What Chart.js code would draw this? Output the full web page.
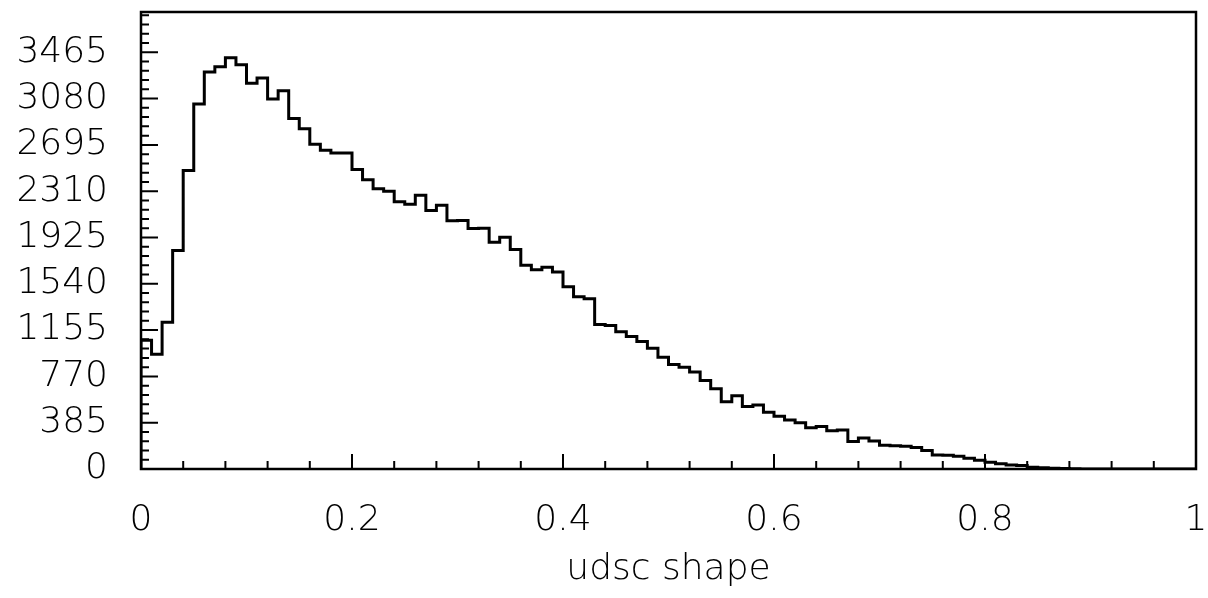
<!DOCTYPE html>
<html>
<head>
<meta charset="utf-8">
<script src="https://cdn.jsdelivr.net/npm/chart.js@4.4.1/dist/chart.umd.min.js"></script>
<style>
  html, body { margin: 0; padding: 0; background: #fff; }
  #wrap { width: 1208px; height: 598px; }
</style>
</head>
<body>
<div id="wrap"><canvas id="myChart" width="1208" height="598"></canvas></div>
<script>
// histogram of "udsc shape", 100 bins from 0 to 1
var binWidth = 0.01;
var counts = [
    1070, 954, 1220, 1817, 2483, 3035, 3301, 3345, 3420, 3362,
    3207, 3252, 3077, 3145, 2915, 2830, 2700, 2650, 2628, 2628,
    2490, 2406, 2330, 2309, 2223, 2202, 2276, 2149, 2193, 2065,
    2067, 1999, 2001, 1886, 1928, 1825, 1694, 1656, 1678, 1638,
    1515, 1433, 1415, 1201, 1194, 1142, 1101, 1060, 1005, 929,
    868, 847, 806, 736, 668, 559, 610, 519, 533, 471,
    438, 407, 385, 344, 353, 318, 324, 229, 257, 233,
    198, 193, 190, 178, 154, 117, 115, 105, 89, 72,
    56, 44, 33, 30, 15, 10, 6, 4, 2, 1,
    0, 0, 0, 0, 0, 0, 0, 0, 0, 0
];
var xTicks = [0, 0.2, 0.4, 0.6, 0.8, 1];
var yTicks = [0, 385, 770, 1155, 1540, 1925, 2310, 2695, 3080, 3465];
var yMax = 3800;
var xTitle = 'udsc shape';

var fontFamily = '"DejaVu Sans", sans-serif';

// step points: left edge of each bin, closed at both ends
var points = [{x: 0, y: 0}];
for (var i = 0; i < counts.length; i++) {
    points.push({x: i * binWidth, y: counts[i]});
}
points.push({x: counts.length * binWidth, y: 0});

// frame and inward ticks, placed through the scales
var frameTicks = {
    id: 'frameTicks',
    afterDatasetsDraw: function(chart) {
        var ctx = chart.ctx;
        var a = chart.chartArea;
        var xs = chart.scales.x;
        var ys = chart.scales.y;
        ctx.save();
        ctx.strokeStyle = '#000';
        ctx.lineWidth = 2;
        ctx.beginPath();
        for (var k = 1; k * 77 < yMax; k++) {
            var py = ys.getPixelForValue(k * 77);
            var len = (k % 5 === 0) ? 17 : 8;
            ctx.moveTo(a.left, py);
            ctx.lineTo(a.left + len, py);
        }
        for (var j = 1; j < 25; j++) {
            var px = xs.getPixelForValue(j * 0.04);
            var l = (j % 5 === 0) ? 15 : 8;
            ctx.moveTo(px, a.bottom);
            ctx.lineTo(px, a.bottom - l);
        }
        ctx.stroke();
        ctx.lineWidth = 2.5;
        ctx.strokeRect(a.left, a.top, a.right - a.left, a.bottom - a.top);
        ctx.restore();
    }
};

var ctx = document.getElementById('myChart');
var myChart = new Chart(ctx, {
    type: 'line',
    data: {
        datasets: [{
            data: points,
            stepped: true,
            borderColor: '#000',
            borderWidth: 3,
            pointRadius: 0,
            fill: false
        }]
    },
    options: {
        responsive: false,
        animation: false,
        layout: { padding: { left: 0, right: 12, top: 12, bottom: 0 } },
        plugins: {
            legend: { display: false },
            tooltip: { enabled: false }
        },
        scales: {
            x: {
                type: 'linear',
                min: 0,
                max: 1,
                grid: { display: false, drawTicks: false },
                border: { display: false },
                afterBuildTicks: function(s) {
                    s.ticks = xTicks.map(function(v) { return {value: v}; });
                },
                afterFit: function(s) {
                    s.height = 129;
                    s.paddingLeft = 0;
                    s.paddingRight = 0;
                },
                ticks: {
                    padding: 30,
                    maxRotation: 0,
                    color: '#000',
                    font: { family: fontFamily, size: 36, weight: 200 },
                    callback: function(v) { return String(v); }
                },
                title: {
                    display: true,
                    text: xTitle,
                    color: '#000',
                    padding: { top: 0, bottom: 7 },
                    font: { family: fontFamily, size: 36, weight: 200 }
                }
            },
            y: {
                min: 0,
                max: yMax,
                grid: { display: false, drawTicks: false },
                border: { display: false },
                afterBuildTicks: function(s) {
                    s.ticks = yTicks.map(function(v) { return {value: v}; });
                },
                afterFit: function(s) {
                    s.width = 141;
                    s.paddingTop = 0;
                    s.paddingBottom = 0;
                },
                ticks: {
                    padding: 33,
                    color: '#000',
                    font: { family: fontFamily, size: 36, weight: 200 },
                    callback: function(v) { return String(v); }
                }
            }
        }
    },
    plugins: [frameTicks]
});
</script>
</body>
</html>
